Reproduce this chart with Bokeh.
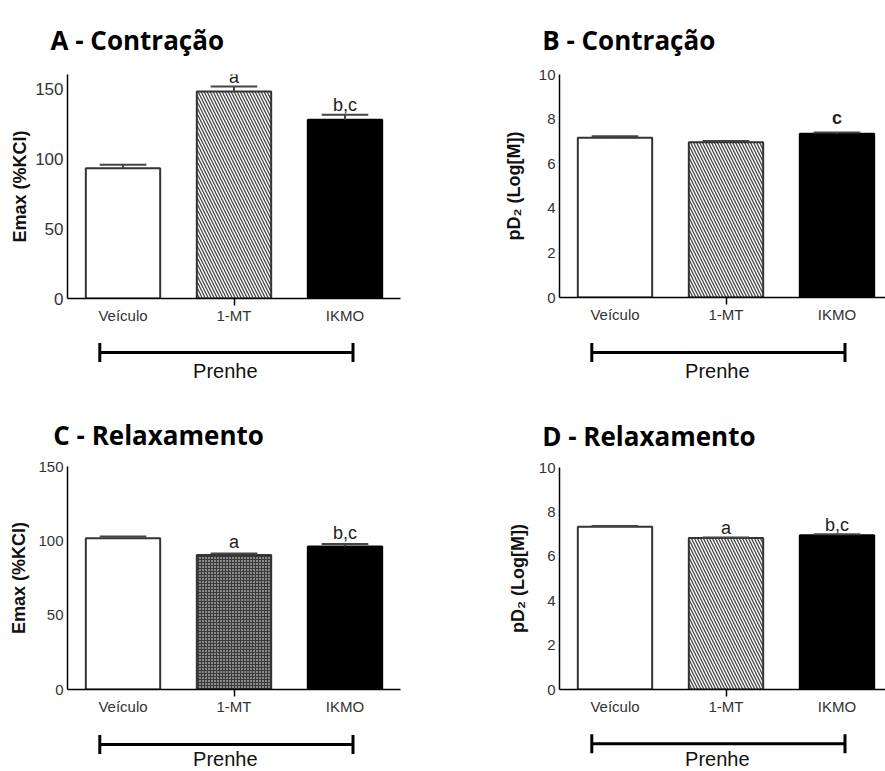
from bokeh.plotting import figure
from bokeh.models import Range1d, FixedTicker, ColumnDataSource, Title
from bokeh.layouts import row, column
from bokeh.embed import file_html
from bokeh.resources import INLINE
from bokeh.core.properties import value

# ---------------- data ----------------
categories = ["Veículo", "1-MT", "IKMO"]
group_label = "Prenhe"

a_mean = [93.1, 147.9, 127.6]
a_sem = [2.4, 3.5, 3.6]
a_sig = ["", "a", "b,c"]

b_mean = [7.16, 6.96, 7.34]
b_sem = [0.07, 0.06, 0.06]
b_sig = ["", "", "c"]

c_mean = [101.8, 90.4, 96.2]
c_sem = [1.1, 1.1, 1.6]
c_sig = ["", "a", "b,c"]

d_mean = [7.33, 6.82, 6.95]
d_sem = [0.03, 0.03, 0.04]
d_sig = ["", "a", "b,c"]

titles = ["A - Contração", "B - Contração", "C - Relaxamento", "D - Relaxamento"]
ylabel_emax = "Emax (%KCl)"
ylabel_pd2 = "pD₂ (Log[M])"
emax_a_ticks = [0, 50, 100, 150]
emax_c_ticks = [0, 50, 100, 150]
pd2_ticks = [0, 2, 4, 6, 8, 10]

PPX = 111.0  # pixels per category slot


def blank_fig(w, h, x_range, y_range, bl=0, br=0):
    f = figure(width=w, height=h, x_range=x_range, y_range=y_range,
               x_axis_type=None, y_axis_type=None,
               output_backend="svg", toolbar_location=None,
               min_border_left=bl, min_border_right=br, min_border_top=0, min_border_bottom=0,
               outline_line_color=None, background_fill_color="white",
               border_fill_color="white")
    f.grid.visible = False
    return f


def make_panel(title, ylabel, means, sems, sigs, yticks, ymax, L):
    W = L["W"]
    fw, fh = L["fw"], L["fh"]
    bl = L["bl"]
    br = W - bl - fw
    xs = list(range(len(categories)))
    xr = Range1d(-0.5, -0.5 + fw / PPX)
    ppy = fh / ymax

    # ---- main plot (title in its top border) ----
    p = figure(frame_width=fw, frame_height=fh, x_range=xr, y_range=Range1d(0, ymax),
               output_backend="svg", toolbar_location=None,
               min_border_left=bl, min_border_right=br,
               min_border_top=L["bt"], min_border_bottom=L["bb"],
               outline_line_color=None, background_fill_color="white",
               border_fill_color="white")
    p.grid.visible = False

    p.add_layout(Title(text=title, align="left", offset=L["tx"] - bl, standoff=L["tstand"],
                       text_font="Open Sans", text_font_style="bold", text_font_size="26px",
                       text_color="black"), "above")

    fills = ["white", L["midfill"], "black"]
    lines = ["#333333", "#333333", "black"]
    hatches = [" ", L["hatch"], " "]
    src = ColumnDataSource(dict(x=xs, top=means, fill=fills, line=lines, hatch=hatches))
    p.vbar(x="x", top="top", width=0.67, bottom=0, source=src,
           fill_color="fill", line_color="line", line_width=2,
           hatch_pattern="hatch", hatch_color=L["hcolor"],
           hatch_scale=L["hscale"], hatch_weight=L["hweight"])

    tops = [m + s for m, s in zip(means, sems)]
    p.segment(x0=xs, y0=means, x1=xs, y1=tops, line_color="#444444", line_width=2)
    p.segment(x0=[x - 0.21 for x in xs], y0=tops, x1=[x + 0.21 for x in xs], y1=tops,
              line_color="#444444", line_width=2)

    sig_y = [t + L["sigpx"] / ppy for t in tops]
    p.text(x=xs, y=sig_y, text=sigs, text_align="center", text_baseline="middle",
           text_font=value("Liberation Sans"), text_font_size="18px",
           text_color="#222222", text_font_style=L["sigstyle"])

    ya = p.yaxis[0]
    ya.ticker = FixedTicker(ticks=yticks)
    ya.major_tick_out = 0
    ya.major_tick_in = 0
    ya.minor_tick_out = 0
    ya.minor_tick_in = 0
    ya.axis_line_color = "black"
    ya.axis_line_width = 1.5
    ya.major_label_text_font = "Liberation Sans"
    ya.major_label_text_font_size = L["tickfont"]
    ya.major_label_text_color = "#333333"
    ya.major_label_standoff = L["tickstand"]
    ya.axis_label = ylabel
    ya.axis_label_text_font = "Liberation Sans"
    ya.axis_label_text_font_style = "bold"
    ya.axis_label_text_font_size = "18px"
    ya.axis_label_text_color = "#111111"
    ya.axis_label_standoff = L["ylstand"]

    xa = p.xaxis[0]
    xa.ticker = FixedTicker(ticks=xs, minor_ticks=[xs[1]])
    xa.major_label_overrides = {x: c for x, c in zip(xs, categories)}
    xa.major_tick_out = 0
    xa.major_tick_in = 0
    xa.minor_tick_out = 7
    xa.minor_tick_in = 0
    xa.minor_tick_line_color = "black"
    xa.minor_tick_line_width = 1.5
    xa.axis_line_color = "black"
    xa.axis_line_width = 1.5
    xa.major_label_text_font = "Liberation Sans"
    xa.major_label_text_font_size = "15px"
    xa.major_label_text_color = "#333333"
    xa.major_label_standoff = 1

    # ---- group bracket strip ----
    gh = L["gh"]
    gf = blank_fig(W, gh, xr, Range1d(gh, 0), bl=bl, br=br)
    x0 = -0.5 + 32.3 / PPX
    x1 = -0.5 + 285.5 / PPX
    by = L["by"]
    gf.segment(x0=[x0, x0, x1], y0=[by, by - 9.5, by - 9.5], x1=[x1, x0, x1], y1=[by, by + 9.5, by + 9.5],
               line_color="black", line_width=3)
    gf.text(x=[(x0 + x1) / 2 - 0.01], y=[L["gy"]], text=[group_label], text_align="center",
            text_baseline="middle", text_font=value("Liberation Sans"), text_font_size="20px",
            text_color="#111111")

    return column(p, gf, spacing=0)


LA = dict(W=440, fw=333, fh=224, bl=67, bt=74, bb=32, gh=70, by=22, gy=40,
          midfill="white", hatch="\\", hscale=6, hweight=1.3, hcolor="#444444",
          tickfont="17px", tickstand=4, ylstand=2, tx=50, tstand=34, sigpx=10, sigstyle="normal")
LB = dict(W=445, fw=326, fh=223, bl=119, bt=74, bb=33, gh=70, by=22, gy=40,
          midfill="white", hatch="\\", hscale=6, hweight=1.3, hcolor="#444444",
          tickfont="15px", tickstand=4, ylstand=12, tx=541.7 - 440, tstand=34, sigpx=14, sigstyle="bold")
LC = dict(W=440, fw=333, fh=223, bl=67, bt=66, bb=36, gh=46, by=19, gy=33,
          midfill="#3a3a3a", hatch=".", hscale=3, hweight=1.6, hcolor="white",
          tickfont="15px", tickstand=4, ylstand=6, tx=52.7, tstand=27, sigpx=11, sigstyle="normal")
LD = dict(W=445, fw=326, fh=222, bl=119, bt=67, bb=36, gh=46, by=18.3, gy=33,
          midfill="white", hatch="\\", hscale=6, hweight=1.3, hcolor="#444444",
          tickfont="15px", tickstand=4, ylstand=8, tx=541.7 - 440, tstand=27, sigpx=9, sigstyle="normal")

pA = make_panel(titles[0], ylabel_emax, a_mean, a_sem, a_sig, emax_a_ticks, 160, LA)
pB = make_panel(titles[1], ylabel_pd2, b_mean, b_sem, b_sig, pd2_ticks, 10, LB)
pC = make_panel(titles[2], ylabel_emax, c_mean, c_sem, c_sig, emax_c_ticks, 150, LC)
pD = make_panel(titles[3], ylabel_pd2, d_mean, d_sem, d_sig, pd2_ticks, 10, LD)

layout = row(column(pA, pC, spacing=0), column(pB, pD, spacing=0), spacing=0)

open("out.html", "w").write(file_html(layout, INLINE))
